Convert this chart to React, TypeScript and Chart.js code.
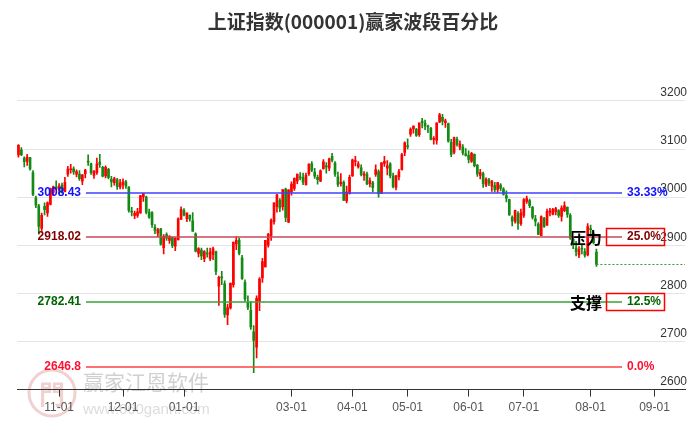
import React, { useEffect, useRef } from 'react';
import { Chart, registerables } from 'chart.js';

Chart.register(...registerables);

// Daily OHLC, 2023-10-12 .. 2024-08-05 (trading days)
const opens = [
  3088, 3098, 3081, 3074, 3082, 3051, 2998, 2982, 2935, 2981, 2967, 2985, 3010, 3021,
  3016, 3025, 3012, 3048, 3057, 3059, 3048, 3048, 3033, 3049, 3073, 3069, 3045, 3051, 3073, 3062, 3044, 3058, 3037, 3030, 3036, 3021,
  3026, 3032, 3021, 2969, 2962, 2962, 2967, 3001, 3000, 2969, 2968, 2937, 2925, 2934, 2895, 2922, 2910, 2916, 2898, 2911, 2954,
  2972, 2955, 2962, 2951, 2924, 2883, 2890, 2872, 2883, 2872, 2881, 2887, 2815, 2833, 2820, 2755, 2770, 2818, 2903, 2911, 2874, 2823,
  2781, 2765, 2720, 2688, 2784, 2832, 2855, 2900, 2919, 2949, 2980, 2994, 2980, 3017, 2948,
  3011, 3018, 3033, 3041, 3041, 3026, 3049, 3069, 3052, 3041, 3033, 3059, 3065, 3060, 3085, 3071, 3042, 3028, 3031, 2992, 3008,
  3044, 3074, 3063, 3061, 3045, 3048, 3028, 3030, 3047, 3053, 3007, 3070, 3060, 3069, 3044, 3020, 3042, 3057, 3093, 3106,
  3131, 3142, 3141, 3130, 3158, 3154, 3146, 3143, 3120, 3118, 3156, 3166, 3155, 3153, 3114, 3093, 3120, 3104, 3104, 3090,
  3087, 3074, 3089, 3066, 3045, 3049, 3025, 3036, 3023, 3024, 3016, 3025, 3017, 3003, 2995, 2958, 2950, 2966, 2945,
  2962, 2991, 2993, 2979, 2955, 2944, 2920, 2956, 2942, 2968, 2964, 2970, 2972, 2960, 2972, 2979, 2962, 2913, 2894, 2880, 2893, 2887, 2880,
  2933, 2924, 2886,
];
const highs = [
  3109, 3103, 3084, 3089, 3083, 3055, 3002, 2985, 2967, 2988, 2990, 3019, 3023, 3034,
  3028, 3029, 3041, 3064, 3068, 3063, 3057, 3055, 3047, 3058, 3088, 3071, 3055, 3081, 3089, 3064, 3065, 3060, 3043, 3041, 3039, 3037,
  3038, 3035, 3022, 2979, 2971, 2977, 3004, 3008, 3002, 2975, 2970, 2943, 2935, 2935, 2922, 2926, 2920, 2917, 2916, 2957, 2980,
  2976, 2967, 2963, 2968, 2926, 2895, 2894, 2889, 2894, 2894, 2896, 2888, 2836, 2846, 2826, 2778, 2822, 2907, 2918, 2915, 2879, 2828,
  2795, 2782, 2733, 2795, 2833, 2873, 2910, 2925, 2955, 2988, 3006, 2997, 3015, 3019, 3015,
  3032, 3040, 3048, 3051, 3050, 3050, 3069, 3074, 3060, 3046, 3057, 3078, 3072, 3081, 3091, 3074, 3052, 3049, 3034, 3023, 3046,
  3079, 3085, 3074, 3067, 3053, 3052, 3040, 3033, 3067, 3057, 3072, 3085, 3076, 3072, 3050, 3045, 3058, 3091, 3115, 3121,
  3144, 3148, 3143, 3154, 3164, 3160, 3150, 3145, 3126, 3155, 3174, 3172, 3162, 3154, 3120, 3125, 3125, 3117, 3109, 3101,
  3096, 3093, 3090, 3068, 3058, 3052, 3040, 3039, 3035, 3031, 3031, 3028, 3020, 3013, 2996, 2961, 2973, 2970, 2975,
  2997, 3002, 2996, 2981, 2962, 2947, 2961, 2958, 2975, 2977, 2977, 2979, 2974, 2982, 2990, 2980, 2966, 2918, 2908, 2897, 2902, 2893, 2945,
  2942, 2928, 2892,
];
const lows = [
  3083, 3086, 3063, 3066, 3056, 3003, 2978, 2923, 2929, 2963, 2960, 2984, 3003, 3015,
  3007, 3008, 3011, 3043, 3050, 3047, 3042, 3035, 3026, 3040, 3066, 3047, 3039, 3047, 3062, 3042, 3040, 3038, 3021, 3025, 3016, 3017,
  3017, 3018, 2969, 2961, 2955, 2958, 2966, 2991, 2965, 2956, 2937, 2924, 2918, 2900, 2882, 2910, 2904, 2895, 2889, 2911, 2953,
  2961, 2949, 2950, 2929, 2886, 2876, 2870, 2866, 2875, 2868, 2870, 2839, 2775, 2818, 2750, 2735, 2767, 2813, 2891, 2880, 2829, 2784,
  2766, 2725, 2635, 2666, 2764, 2823, 2855, 2896, 2910, 2944, 2969, 2970, 2973, 2949, 2947,
  3004, 3014, 3028, 3036, 3026, 3025, 3045, 3053, 3039, 3027, 3032, 3058, 3050, 3055, 3073, 3043, 3022, 3023, 2993, 2988, 3006,
  3043, 3065, 3060, 3044, 3035, 3026, 3021, 3011, 3043, 3000, 3007, 3064, 3046, 3040, 3019, 3015, 3036, 3056, 3086, 3100,
  3126, 3133, 3126, 3126, 3144, 3140, 3134, 3119, 3110, 3110, 3155, 3150, 3145, 3114, 3084, 3090, 3106, 3098, 3088, 3085,
  3071, 3072, 3063, 3043, 3038, 3020, 3022, 3024, 3012, 3011, 3010, 3013, 3004, 2990, 2962, 2940, 2946, 2933, 2941,
  2958, 2987, 2978, 2954, 2940, 2922, 2920, 2937, 2941, 2961, 2963, 2963, 2958, 2950, 2970, 2958, 2912, 2893, 2878, 2874, 2882, 2875, 2878,
  2924, 2903, 2856,
];
const closes = [
  3107.9, 3088.1, 3073.8, 3083.5, 3058.7, 3005.4, 2983.1, 2939.3, 2962.2, 2974.1, 2988.3, 3017.8, 3021.6, 3018.8,
  3023.1, 3009.4, 3030.8, 3058.4, 3057.3, 3052.4, 3053.3, 3038.4, 3046.5, 3056.4, 3072.8, 3050.9, 3054.4, 3069.2, 3067.9, 3043.6, 3061.9, 3040.9, 3031.7, 3038.6, 3021.7, 3029.7,
  3031.6, 3022.9, 2972.3, 2968.9, 2966.2, 2969.6, 3003.3, 3008.0, 2968.9, 2958.5, 2942.6, 2930.8, 2932.4, 2902.1, 2918.7, 2914.8, 2918.8, 2898.9, 2914.6, 2954.7, 2974.9,
  2962.3, 2967.3, 2954.4, 2929.2, 2887.5, 2893.3, 2877.7, 2886.6, 2881.9, 2886.3, 2893.0, 2845.8, 2833.6, 2832.3, 2756.3, 2770.7, 2820.8, 2906.1, 2910.2, 2883.4, 2830.5, 2788.6,
  2770.7, 2730.2, 2702.2, 2789.5, 2829.7, 2865.9, 2910.5, 2922.7, 2951.8, 2988.4, 3004.9, 2977.0, 3015.5, 2957.9, 3015.2,
  3027.0, 3039.3, 3047.8, 3040.2, 3031.0, 3046.0, 3068.5, 3055.9, 3043.8, 3036.4, 3054.6, 3073.2, 3062.7, 3079.7, 3077.1, 3048.0, 3026.3, 3031.5, 2993.1, 3010.7, 3041.2,
  3077.4, 3074.9, 3069.3, 3047.1, 3048.5, 3027.3, 3034.3, 3019.5, 3057.4, 3007.1, 3071.4, 3074.2, 3065.3, 3044.6, 3021.9, 3044.8, 3052.9, 3088.6, 3113.0, 3104.8,
  3140.7, 3147.7, 3128.5, 3154.3, 3154.6, 3148.0, 3145.8, 3119.9, 3122.4, 3154.0, 3171.1, 3157.9, 3158.5, 3116.4, 3088.9, 3124.0, 3109.6, 3111.0, 3091.7, 3086.8,
  3078.5, 3091.2, 3065.4, 3048.4, 3051.3, 3028.0, 3037.5, 3028.9, 3032.6, 3015.9, 3030.3, 3018.1, 3005.4, 2998.1, 2963.1, 2950.0, 2972.6, 2945.9, 2967.4,
  2994.7, 2997.0, 2982.4, 2957.6, 2949.9, 2922.5, 2959.4, 2939.4, 2970.4, 2971.3, 2974.8, 2976.3, 2962.1, 2977.1, 2982.3, 2964.2, 2915.4, 2901.9, 2886.7, 2890.9, 2891.9, 2879.3, 2938.8,
  2932.4, 2905.3, 2860.7,
];

const slotCount = 230; // trading-day slots on the x axis (data + future)
const monthTickIdx = [14, 36, 57, 94, 115, 134, 155, 174, 197, 219];
const monthTickLabels = ['11-01', '12-01', '01-01', '03-01', '04-01', '05-01', '06-01', '07-01', '08-01', '09-01'];
const yTickValues = [2600, 2700, 2800, 2900, 3000, 3100, 3200];

const levelValues = [3008.43, 2918.02, 2782.41, 2646.8];
const levelValueLabels = ['3008.43', '2918.02', '2782.41', '2646.8'];
const levelPctLabels = ['33.33%', '25.0%', '12.5%', '0.0%'];
const levelTags = ['', '压力', '支撑', ''];

const TITLE = '上证指数(000001)赢家波段百分比';
const RED = '#ff0000';
const GREEN = '#138a13';
const levelLineColors = ['#4040ff', '#c84858', '#3aa03a', '#ff4040'];
const levelTextColors = ['#1010ff', '#800000', '#006400', '#ff1030'];

const FONT = "'Liberation Sans', Arial, sans-serif";

const watermarkPlugin = {
  id: 'watermark',
  beforeDraw(chart: any) {
    const ctx = chart.ctx;
    ctx.save();
    ctx.strokeStyle = 'rgba(215,120,120,0.35)';
    ctx.lineWidth = 3;
    ctx.beginPath();
    ctx.arc(52, 393, 23, 0, Math.PI * 2);
    ctx.stroke();
    ctx.fillStyle = 'rgba(215,120,120,0.35)';
    ctx.font = "bold 26px 'Noto Sans CJK SC'";
    ctx.textAlign = 'center';
    ctx.textBaseline = 'middle';
    ctx.fillText('門', 52, 394);
    ctx.textAlign = 'left';
    ctx.fillStyle = 'rgba(170,170,170,0.55)';
    ctx.font = "21px 'Noto Sans CJK SC'";
    ctx.fillText('赢家江恩软件', 83, 382);
    ctx.fillStyle = 'rgba(185,185,185,0.5)';
    ctx.font = `15px ${FONT}`;
    ctx.fillText('www.660gann.com', 83, 410);
    ctx.restore();
  },
};

const levelsPlugin = {
  id: 'levels',
  afterDatasetsDraw(chart: any) {
    const ctx = chart.ctx;
    const ys = chart.scales.y;
    const xs = chart.scales.x;
    const area = chart.chartArea;
    ctx.save();
    levelValues.forEach((v, i) => {
      const y = Math.round(ys.getPixelForValue(v));
      ctx.setLineDash([]);
      ctx.strokeStyle = levelLineColors[i];
      ctx.lineWidth = 1.5;
      ctx.beginPath();
      ctx.moveTo(86, y);
      ctx.lineTo(622, y);
      ctx.stroke();
      ctx.font = `bold 12px ${FONT}`;
      ctx.textBaseline = 'middle';
      ctx.fillStyle = levelTextColors[i];
      ctx.textAlign = 'right';
      ctx.fillText(levelValueLabels[i], 81, y);
      ctx.textAlign = 'left';
      ctx.fillText(levelPctLabels[i], 627, y);
      if (levelTags[i]) {
        ctx.strokeStyle = '#ff0000';
        ctx.lineWidth = 1.5;
        ctx.strokeRect(606.5, y - 8.5, 58, 17);
        ctx.fillStyle = '#000';
        ctx.font = "bold 16px 'Noto Sans CJK SC'";
        ctx.textAlign = 'right';
        ctx.fillText(levelTags[i], 602, y + 1);
      }
    });
    // dashed line at the last close
    const lastIdx = closes.length - 1;
    const yl = Math.round(ys.getPixelForValue(closes[lastIdx])) + 0.5;
    ctx.strokeStyle = '#2e9e2e';
    ctx.lineWidth = 1;
    ctx.setLineDash([2, 2]);
    ctx.beginPath();
    ctx.moveTo(xs.getPixelForValue(lastIdx), yl);
    ctx.lineTo(area.right, yl);
    ctx.stroke();
    ctx.restore();
  },
};

export default function App() {
  const canvasRef = useRef<HTMLCanvasElement | null>(null);

  useEffect(() => {
    document.body.style.margin = '0';
    const canvas = canvasRef.current;
    if (!canvas) return;
    const labels = Array.from({ length: slotCount }, (_, i) => String(i));
    const colors = opens.map((o, i) => (closes[i] >= o ? RED : GREEN));
    const bodies = opens.map((o, i) => [Math.min(o, closes[i]), Math.max(o, closes[i])]);
    const wicks = lows.map((l, i) => [l, highs[i]]);

    const chart = new Chart(canvas, {
      type: 'bar',
      data: {
        labels,
        datasets: [
          {
            data: wicks as any,
            backgroundColor: colors,
            barThickness: 1,
            grouped: false,
            order: 2,
          } as any,
          {
            data: bodies as any,
            backgroundColor: colors,
            barThickness: 2,
            minBarLength: 1,
            grouped: false,
            order: 1,
          } as any,
        ],
      },
      options: {
        responsive: false,
        animation: false,
        devicePixelRatio: 1,
        layout: { padding: { left: 17, right: 0, top: 0, bottom: 8 } },
        plugins: {
          legend: { display: false },
          tooltip: { enabled: false },
          title: {
            display: true,
            text: TITLE,
            color: '#333',
            font: { size: 19, weight: 'bold', family: "'Noto Sans CJK SC', sans-serif" },
            padding: { top: 10, bottom: 20 },
          },
        },
        scales: {
          x: {
            type: 'category',
            offset: true,
            grid: {
              display: true,
              drawOnChartArea: false,
              drawTicks: true,
              tickLength: 7,
              color: '#333',
              offset: false,
            },
            border: { display: true, color: '#333' },
            ticks: {
              autoSkip: false,
              maxRotation: 0,
              color: '#555',
              padding: 4,
              font: { size: 12, family: FONT },
              callback: (_v: any, i: number) => {
                const k = monthTickIdx.indexOf(i);
                return k >= 0 ? monthTickLabels[k] : null;
              },
            },
          },
          y: {
            position: 'right',
            min: 2600,
            max: 3300,
            afterBuildTicks: (axis: any) => {
              axis.ticks = yTickValues.map((v) => ({ value: v }));
            },
            grid: { color: '#e4e4e4', drawTicks: false },
            border: { display: false },
            ticks: {
              mirror: true,
              padding: 2,
              labelOffset: -8,
              color: '#333',
              font: { size: 12, family: FONT },
              callback: (v: any) => String(v),
            },
          },
        },
      } as any,
      plugins: [watermarkPlugin, levelsPlugin],
    });
    return () => chart.destroy();
  }, []);

  return (
    <div style={{ width: 689, height: 427, background: '#fff' }}>
      <canvas ref={canvasRef} width={689} height={427} />
    </div>
  );
}
